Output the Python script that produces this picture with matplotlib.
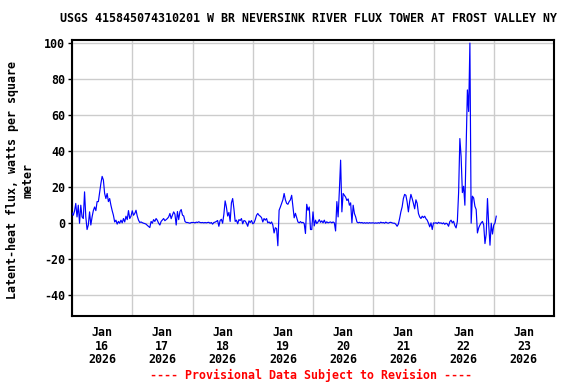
import matplotlib
matplotlib.use("Agg")
import matplotlib.pyplot as plt
import pandas as pd

title = "USGS 415845074310201 W BR NEVERSINK RIVER FLUX TOWER AT FROST VALLEY NY"
ylabel = "Latent-heat flux, watts per square\nmeter"
footer = "---- Provisional Data Subject to Revision ----"

start_time = "2026-01-16 00:00"
interval = "30min"

jan16 = [5.7, 4.4, 6.7, 11, 3.5, 10, 0, 10, 3.5, 2.6, 17.4, 3.5, -3.5, -1, 6.3, -1,
         3.5, 7, 9, 7, 12, 12, 17, 22, 26, 24, 16.5, 13.7, 16.5, 12, 13.7, 10,
         7, 4.4, 0.7, 1.7, -0.5, 1, 0, 1.7, 0.2, 2.6, 0.7, 3.9, 2, 7, 2.6, 3.9]
jan17 = [6.9, 4.4, 5.4, 7.2, 3.9, 1.7, 0.4, 0.7, 0.3, 0, -0.2, -0.5, -1.2, -1.8, -2.4, 1,
         0, 2, 1, 2.6, 1.6, 0, -1, 1, 1.8, 2.6, 1.4, 2, 2.6, 3.5, 5.4, 2.5,
         4.5, 6.3, 5, -1, 6.5, 2, 6.5, 7.6, 4.5, 4, 1, 0.4, 0.4, 0.2, 0, 0.4]
jan18 = [0.4, 0.4, 0.2, 0.6, 0.4, 0.8, 0.4, 0.3, 0.4, 0.2, 0.4, 0.2, 0.4, 0.5, 0, 0.4,
         -0.5, 0.4, 0.6, 1, 1.5, -1.7, 1.5, 2.2, 0, 5, 12.4, 9, 4, 6, 1, 11.3,
         13.7, 8, 1, 1.7, -0.3, 2, 1.5, 2.6, -0.3, 1.5, 1.2, 0, -1.7, 1.3, 0.4, 1.5]
jan19 = [-0.3, 0.2, 2, 4.4, 5.4, 4.4, 3.9, 3.1, 0.7, 2.6, 1.7, 2.6, 0.2, 0.7, -0.2, 0.7,
         -1, -5.4, -2.5, -3, -12.5, 7.2, 9, 11, 13, 16.5, 13, 11, 10.5, 12, 13, 15.5,
         9, 3, 5.5, 3, 0.7, 0.2, 0.9, 0.2, 0.5, -0.2, -5.7, 10.5, 7.2, 9, -3.5, -3.5]
jan20 = [6.3, -1.5, 1.7, -0.2, 0.7, 2, 0.5, 1.3, 0.2, 1.7, 0, 0.8, 0.2, 0.5, 0.7, 0.2,
         0.7, 0.2, -4.3, 12, 3.5, 18, 35, 6.3, 16.5, 15.5, 14.5, 12.6, 13.5, 10, 11.3, 0.2,
         10, 5.4, 3.5, 0.7, 0.2, 0.5, 0.2, 0.4, 0, 0.3, 0, 0.3, 0, 0.3, 0.1, 0.2]
jan21 = [0.2, 0, 0.2, 0, 0.3, 0, 0.6, 0.2, 0.4, 0, 0.6, 0.2, 0, 0.4, 0.5, 0.2,
         0, 0, -0.6, -1.7, -0.5, 2.6, 6.3, 9, 13.7, 16, 15.5, 11.8, 6.3, 12, 16, 13.7,
         11, 8, 13, 11, 5.4, 3.5, 2.6, 3.9, 3.1, 3.9, 2.5, 1.7, 0, -2, 0.2, -3.5]
jan22 = [0.2, 0, 0.3, -0.2, 0.5, 0, 0.2, -0.3, 0.2, -0.6, 0, -0.4, -1.7, 0.9, 1.7, 0.2,
         1.1, -1.3, -2.6, 1, 17, 47, 37, 17, 20.5, 10, 43, 74, 62, 100, 0, 15,
         14, 9.4, 7.6, -5.4, -2.6, -1, 0.2, 1, -1, -11.3, -6, 13.7, -1, -12.2, 0, -6]
jan23 = [-1, 0.2, 3.9]

values = jan16 + jan17 + jan18 + jan19 + jan20 + jan21 + jan22 + jan23
times = pd.date_range(start_time, periods=len(values), freq=interval)

yticks = [-40, -20, 0, 20, 40, 60, 80, 100]
ylim = (-51.5, 101.7)
x_start = pd.Timestamp("2026-01-16 00:00")
x_end = pd.Timestamp("2026-01-24 00:00")
midnights = pd.date_range(x_start, x_end, freq="D")
noons = pd.date_range("2026-01-16 12:00", periods=8, freq="D")
noon_labels = [f"{t:%b}\n{t.day}\n{t:%Y}" for t in noons]

font = dict(family="DejaVu Sans Mono", weight="bold", size=8.4)

fig = plt.figure(figsize=(5.76, 3.84), dpi=100)
ax = fig.add_axes([72 / 576, 1 - 316 / 384, (554 - 72) / 576, (316 - 40) / 384])

ax.plot(times, values, color="#0000ff", lw=0.85, zorder=3)

ax.set_xlim(x_start, x_end)
ax.set_ylim(*ylim)

ax.set_xticks(midnights)
ax.set_xticklabels([])
ax.set_xticks(noons, minor=True)
ax.set_xticklabels(noon_labels, minor=True, fontdict=font, linespacing=1.08)
ax.tick_params(axis="x", which="major", length=0)
ax.tick_params(axis="x", which="minor", length=0, pad=7)

ax.set_yticks(yticks)
ax.set_yticklabels([str(v) for v in yticks], fontdict=font)
ax.tick_params(axis="y", which="major", length=3, width=1, pad=2)

ax.grid(True, which="major", color="#cccccc", lw=1.0, zorder=0)
for s in ax.spines.values():
    s.set_linewidth(1.5)
    s.set_color("black")

fig.text(308 / 576, 1 - 18 / 384, title, ha="center", va="center", **font)
fig.text(20 / 576, 1 - 180 / 384, ylabel, ha="center", va="center", rotation=90,
         linespacing=1.2, **font)
fig.text(311 / 576, 1 - 375 / 384, footer, ha="center", va="center", color="#ff0000", **font)

fig.savefig("out.png", dpi=100)
